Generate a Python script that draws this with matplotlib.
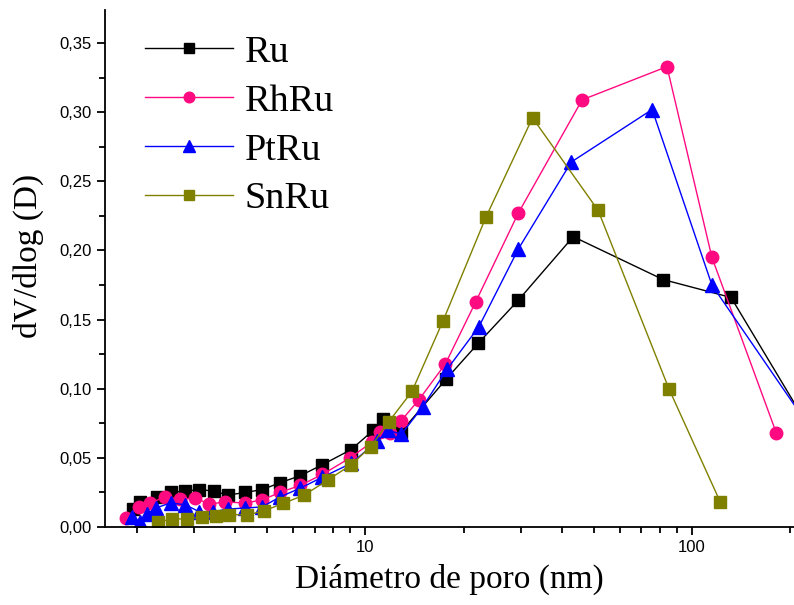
import matplotlib.pyplot as plt
from matplotlib.ticker import MultipleLocator, FuncFormatter, LogLocator

# Ru
ru_x = [1.95, 2.05, 2.31, 2.55, 2.82, 3.11, 3.45, 3.8, 4.3, 4.84, 5.49, 6.32,
        7.4, 9.06, 10.6, 11.3, 12.9, 17.7, 22.2, 29.4, 43.3, 81.5, 131.6, 220]
ru_y = [0.013, 0.018, 0.022, 0.025, 0.026, 0.027, 0.026, 0.023, 0.025, 0.027, 0.032, 0.037,
        0.045, 0.056, 0.070, 0.078, 0.069, 0.107, 0.133, 0.164, 0.210, 0.179, 0.166, 0.078]

# RhRu
rh_x = [1.85, 2.03, 2.2, 2.44, 2.72, 3.02, 3.33, 3.73, 4.3, 4.84, 5.49, 6.32,
        7.4, 9.0, 10.5, 11.1, 11.9, 12.9, 14.6, 17.6, 21.8, 29.4, 46.1, 83.8, 115, 181]
rh_y = [0.0065, 0.0145, 0.017, 0.022, 0.020, 0.021, 0.0166, 0.018, 0.0174, 0.0195, 0.025, 0.030,
        0.038, 0.050, 0.0615, 0.069, 0.068, 0.077, 0.092, 0.118, 0.163, 0.227, 0.309, 0.333, 0.195, 0.068]

# PtRu
pt_x = [1.94, 2.05, 2.15, 2.29, 2.54, 2.82, 3.11, 3.43, 3.8, 4.3, 4.84, 5.49, 6.32,
        7.4, 9.06, 10.9, 11.75, 12.9, 15.0, 17.8, 22.3, 29.4, 42.7, 75.5, 115, 220]
pt_y = [0.007, 0.0036, 0.0094, 0.0137, 0.0174, 0.016, 0.011, 0.011, 0.013, 0.0137, 0.0145, 0.0217, 0.028,
        0.036, 0.046, 0.062, 0.070, 0.067, 0.087, 0.114, 0.145, 0.201, 0.264, 0.302, 0.175, 0.078]

# SnRu
sn_x = [2.33, 2.57, 2.85, 3.16, 3.5, 3.84, 4.36, 4.9, 5.61, 6.5, 7.7, 9.06,
        10.4, 11.8, 13.9, 17.3, 23.4, 32.5, 51.6, 85, 122]
sn_y = [0.0036, 0.0058, 0.0058, 0.0072, 0.008, 0.009, 0.0087, 0.0116, 0.017, 0.023, 0.034, 0.045,
        0.058, 0.076, 0.098, 0.149, 0.224, 0.296, 0.229, 0.0998, 0.018]

fig = plt.figure(figsize=(7.94, 6.05), dpi=100)
ax = fig.add_axes([0.1322, 0.129, 0.8678, 0.8545])

ax.plot(ru_x, ru_y, '-s', color='black', lw=1, ms=8, label='Ru')
ax.plot(rh_x, rh_y, '-o', color='#ff0a80', lw=1, ms=9, label='RhRu')
ax.plot(pt_x, pt_y, '-^', color='#0000ff', lw=1, ms=10, label='PtRu')
ax.plot(sn_x, sn_y, '-s', color='#808000', lw=1, ms=8, label='SnRu')

ax.set_xscale('log')
ax.set_xlim(1.6, 205)
ax.set_ylim(0, 0.374)

ax.spines['top'].set_visible(False)
ax.spines['right'].set_visible(False)
ax.spines['left'].set_linewidth(1.3)
ax.spines['bottom'].set_linewidth(1.3)

ax.yaxis.set_major_locator(MultipleLocator(0.05))
ax.yaxis.set_minor_locator(MultipleLocator(0.025))
ax.yaxis.set_major_formatter(FuncFormatter(lambda v, p: f'{v:.2f}'.replace('.', ',')))
ax.xaxis.set_major_locator(LogLocator(base=10, numticks=10))
ax.xaxis.set_minor_locator(LogLocator(base=10, subs=range(2, 10), numticks=10))
ax.xaxis.set_major_formatter(FuncFormatter(lambda v, p: f'{v:g}'))
ax.xaxis.set_minor_formatter(FuncFormatter(lambda v, p: ''))

ax.tick_params(which='both', direction='out', width=1.3, labelsize=12)
ax.tick_params(which='major', length=6)
ax.tick_params(which='minor', length=4)
for lab in ax.get_xticklabels() + ax.get_yticklabels():
    lab.set_family('Liberation Sans')

ax.set_xlabel('Diámetro de poro (nm)', family='Liberation Serif', fontsize=24, labelpad=6)
ax.set_ylabel('dV/dlog (D)', family='Liberation Serif', fontsize=24)
ax.yaxis.set_label_coords(-0.088, 0.524)

ax.legend(loc='upper left', bbox_to_anchor=(0.036, 0.981), frameon=False,
          prop={'family': 'Liberation Serif', 'size': 27.5}, borderaxespad=0,
          handlelength=2.3, handletextpad=0.31, labelspacing=0.37, markerscale=0.85)

fig.savefig('out.png', dpi=100)
